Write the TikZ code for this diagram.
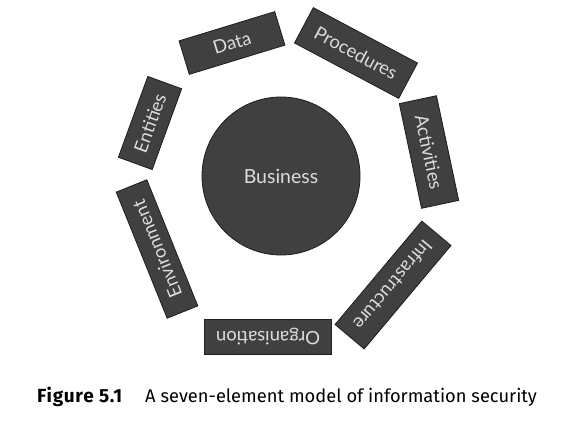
\documentclass[tikz,border=0pt]{standalone}
\usepackage{fontspec}
\setmainfont{Lato}
\newfontfamily\capfont{Fira Sans}
\newfontfamily\caplabelfont[LetterSpace=4]{Fira Sans}
\definecolor{boxgray}{HTML}{404040}
\definecolor{txtgray}{HTML}{DCDCDC}
\definecolor{edgegray}{HTML}{1E1E1E}
\begin{document}
\begin{tikzpicture}[x=1pt,y=1pt,
  elem/.style={draw=edgegray, line width=0.8pt, fill=boxgray, text=txtgray,
    inner sep=0pt, font=\fontsize{18.5}{18.5}\selectfont},
  capstyle/.style={anchor=base west, inner sep=0pt, font=\capfont\fontsize{18.3}{18.3}\selectfont}]
\useasboundingbox[fill=white] (0,0) rectangle (585,-426);
\node[circle, draw=edgegray, line width=0.8pt, fill=boxgray, text=txtgray,
  minimum size=158pt, inner sep=0pt, font=\fontsize{19.5}{19.5}\selectfont] (business) at (281,-176) {Business};
\node[elem, minimum width=100pt, minimum height=35pt, rotate=17] (data) at (232,-43) {Data};
\node[elem, minimum width=118pt, minimum height=40pt, rotate=-28] (procedures) at (356,-53) {Procedures};
\node[elem, minimum width=107pt, minimum height=38pt, rotate=-78] (activities) at (429,-152) {Activities};
\node[elem, minimum width=135pt, minimum height=38pt, rotate=-130] (infrastructure) at (393,-285) {Infrastructure};
\node[elem, minimum width=127pt, minimum height=35pt, rotate=180] (organisation) at (268,-337) {Organisation};
\node[elem, minimum width=136pt, minimum height=33pt, rotate=112] (environment) at (157,-249) {Environment};
\node[elem, minimum width=86pt, minimum height=36pt, rotate=70] (entities) at (150,-123) {Entities};
\node[anchor=base west, inner sep=0pt, font=\caplabelfont\bfseries\fontsize{19}{19}\selectfont] (figlabel) at (37,-402) {Figure 5.1};
\node[capstyle] (caption) at (145,-402) {A seven-element model of information security};
\end{tikzpicture}
\end{document}
